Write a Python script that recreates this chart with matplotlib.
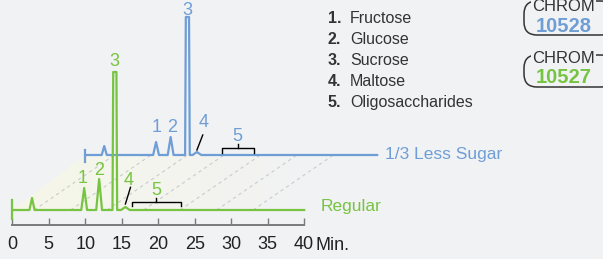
import numpy as np
import matplotlib.pyplot as plt
from matplotlib.patches import Polygon, FancyBboxPatch

# peak tables (retention time in min, height in px-units above each baseline)
green_t = [2.7, 9.85, 11.9, 14.05, 15.5]
green_h = [12, 22, 31, 138, 3]
green_w = [0.35, 0.4, 0.4, 0.32, 0.6]
green_top = [0, 0, 0, 0.22, 0]

blue_t = [2.6, 9.7, 11.7, 14.0, 15.3]
blue_h = [9, 13, 18, 138, 3]
blue_w = [0.35, 0.4, 0.4, 0.32, 0.6]
blue_top = [0, 0, 0, 0.22, 0]

peak_names = ['Fructose', 'Glucose', 'Sucrose', 'Maltose', 'Oligosaccharides']
ticks = [0, 5, 10, 15, 20, 25, 30, 35, 40]
run_end = 40
blue_dx, blue_dy = 10, 55
guide_t = [3, 8, 13, 18, 23, 28, 33]

green = '#77c442'
blue = '#6f9ed6'
bg = '#f1f2f4'
dark = '#333333'

plt.rcParams['font.family'] = ['Liberation Sans', 'DejaVu Sans']


def trace(ts, hs, ws, tops):
    xs, ys = [0], [0]
    for t, h, w, tp in zip(ts, hs, ws, tops):
        xs += [t - w, t - tp, t + tp, t + w]
        ys += [0, h, h, 0]
    xs.append(run_end)
    ys.append(0)
    return np.array(xs), np.array(ys)


fig = plt.figure(figsize=(6.03, 2.59), dpi=100)
fig.patch.set_facecolor(bg)
ax = fig.add_axes([12.3 / 603, 34 / 259, 7.297 * 40 / 603, 225 / 259])
ax.patch.set_alpha(0)

# floor between the two runs
floor = Polygon([(0, 0), (blue_dx, blue_dy), (run_end + blue_dx, blue_dy), (run_end, 0)],
                closed=True, facecolor='none', edgecolor='none')
ax.add_patch(floor)
grad = np.zeros((2, 60, 4))
c0 = np.array([246, 247, 232]) / 255
c1 = np.array([241, 242, 244]) / 255
for i in range(60):
    f = min(1, i / 50)
    grad[:, i, :3] = c0 * (1 - f) + c1 * f
grad[:, :, 3] = 1
im = ax.imshow(grad, extent=[0, run_end + blue_dx, 0, blue_dy], aspect='auto',
               origin='lower', zorder=0.5)
im.set_clip_path(floor)
im.set_clip_box(None)

for t in guide_t:
    ax.plot([t, t + 11], [0, blue_dy], color='#c9cbcd', lw=0.8, ls=(0, (3, 3)),
            zorder=0.8, clip_on=False)

# traces
gx, gy = trace(green_t, green_h, green_w, green_top)
bx, by = trace(blue_t, blue_h, blue_w, blue_top)
ax.plot(bx + blue_dx, by + blue_dy, color=blue, lw=1.6, clip_on=False, zorder=2,
        solid_joinstyle='round')
ax.plot([blue_dx, blue_dx], [blue_dy - 7, blue_dy + 5], color=blue, lw=1.6,
        clip_on=False, zorder=2)
ax.plot(gx, gy, color=green, lw=1.6, clip_on=False, zorder=3, solid_joinstyle='round')
ax.plot([0, 0], [-9, 10], color=green, lw=1.6, clip_on=False, zorder=3)

# peak labels
lab = dict(fontsize=13, ha='center', va='baseline')
for s, t, yb in [('1', 9.7, 26.7), ('2', 11.9, 35), ('3', 14.05, 144), ('4', 16.0, 25), ('5', 19.7, 15)]:
    ax.text(t, yb, s, color=green, **lab)
for s, t, yb in [('1', 19.75, 78.3), ('2', 21.9, 78.3), ('3', 24.0, 195), ('4', 26.2, 83), ('5', 30.9, 69)]:
    ax.text(t, yb, s, color=blue, **lab)

# maltose leaders and oligosaccharide brackets
ax.plot([16.2, 15.5], [22.7, 6], color='black', lw=1, clip_on=False, zorder=4)
ax.plot([26.1, 25.3], [75, 60], color='black', lw=1, clip_on=False, zorder=4)
ax.plot([16.4, 16.4, 23.1, 23.1], [4, 8.3, 8.3, 4], color='black', lw=1, zorder=4)
ax.plot([19.7, 19.7], [8.3, 12], color='black', lw=1, zorder=4)
ax.plot([28.7, 28.7, 33.1, 33.1], [57.3, 62.3, 62.3, 57.3], color='black', lw=1, zorder=4)
ax.plot([30.9, 30.9], [62.3, 66], color='black', lw=1, zorder=4)

ax.text(42.3, -1.5, 'Regular', color=green, fontsize=12.5, va='baseline', ha='left')
ax.text(51.1, 51, '1/3 Less Sugar', color=blue, fontsize=12.5, va='baseline', ha='left')

ax.set_xlim(0, run_end)
ax.set_ylim(-15, 210)
for side in ['top', 'right', 'left']:
    ax.spines[side].set_visible(False)
ax.spines['bottom'].set_color('#7a7a7a')
ax.spines['bottom'].set_linewidth(1.4)
ax.set_yticks([])
ax.set_xticks(ticks)
ax.tick_params(axis='x', direction='in', length=5, width=1, color='#7a7a7a',
               pad=8, labelsize=13, labelcolor='#222222')
ax.text(41.6, -40.5, 'Min.', fontsize=13, color='#222222', va='baseline', ha='left')

# legend and method badges in pixel space
ov = fig.add_axes([0, 0, 1, 1], zorder=5)
ov.set_xlim(0, 603)
ov.set_ylim(259, 0)
ov.axis('off')
for i, name in enumerate(peak_names):
    yb = 22.7 + 21.1 * i
    ov.text(328, yb, f'{i + 1}.', fontsize=11.5, fontweight='bold', color=dark, va='baseline')
    ov.text(350, yb, name, fontsize=11.5, color=dark, va='baseline')

for top, bot, yc, yn, num, col in [(1, 35, 11, 32, '10528', blue), (55, 87, 63, 83, '10527', green)]:
    ov.add_patch(FancyBboxPatch((524, top), 90, bot - top,
                                boxstyle='round,pad=0,rounding_size=13',
                                facecolor='none', edgecolor=dark, lw=1.1))
    ov.text(563.5, yc, 'CHROM', fontsize=12, color=dark, ha='center', va='baseline',
            bbox=dict(facecolor=bg, edgecolor='none', pad=0.5))
    ov.text(563.5, yn, num, fontsize=14.5, fontweight='bold', color=col, ha='center',
            va='baseline')

fig.savefig('out.png', dpi=100, facecolor=bg)
